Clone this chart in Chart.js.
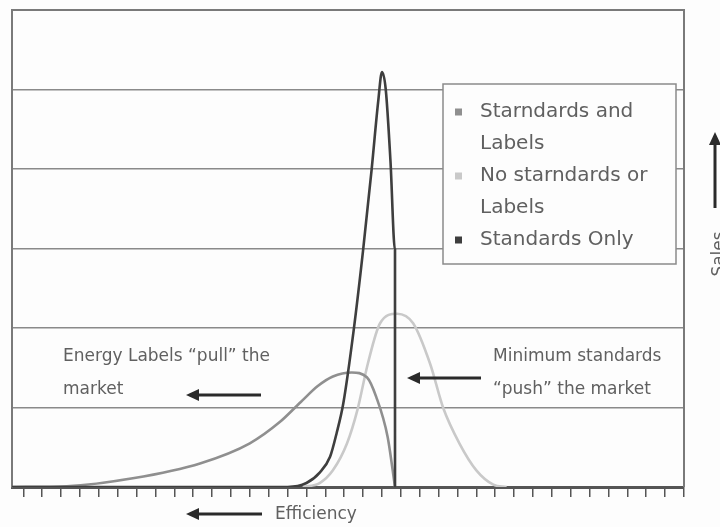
<!DOCTYPE html>
<html lang="en">
<head>
  <meta charset="UTF-8">
  <title>Efficiency vs Sales</title>
  <script src="https://cdn.jsdelivr.net/npm/chart.js"></script>
  <style>
    html, body { margin: 0; padding: 0; background: #fdfdfd; }
    #wrap { width: 720px; height: 527px; position: relative; }
  </style>
</head>
<body>
<div id="wrap"><canvas id="chart" width="720" height="527"></canvas></div>
<script>
  // series (x = efficiency position, y = sales)
  const seriesNames = [['Starndards and', 'Labels'], ['No starndards or', 'Labels'], ['Standards Only']];

  const slX = [-0.6, 2.3, 5.8, 9.4, 12.0, 13.6, 14.7, 15.6, 16.4, 17.4, 18.2, 18.7, 19.3, 19.69];
  const slY = [0, 0.01, 0.11, 0.30, 0.55, 0.82, 1.07, 1.27, 1.39, 1.44, 1.38, 1.13, 0.63, 0];

  const noX = [14.8, 15.7, 16.4, 17.15, 17.7, 18.25, 18.9, 19.8, 20.65, 21.55, 22.25, 23.1, 24.0, 24.9, 25.6];
  const noY = [0, 0.05, 0.21, 0.55, 0.97, 1.55, 2.06, 2.18, 2.06, 1.55, 0.99, 0.55, 0.21, 0.03, 0];

  const soX = [-0.6, 14.0, 15.0, 15.7, 16.25, 16.6, 16.95, 17.5, 18.0, 18.45, 18.8, 19.0, 19.2, 19.45, 19.69, 19.69];
  const soY = [0, 0, 0.05, 0.18, 0.38, 0.68, 1.05, 1.97, 2.98, 3.99, 4.85, 5.22, 5.0, 4.1, 2.98, 0];

  const seriesColors = ['#8f8f8f', '#c9c9c9', '#3e3e3e'];

  const toPoints = (xs, ys) => xs.map((x, i) => ({ x: x, y: ys[i] }));

  const FONT = '"DejaVu Sans", sans-serif';

  function arrow(ctx, x1, y1, x2, y2) {
    // shaft from (x1,y1) to tip (x2,y2)
    const ang = Math.atan2(y2 - y1, x2 - x1);
    const hl = 13, hw = 6;
    ctx.save();
    ctx.strokeStyle = '#2a2a2a';
    ctx.fillStyle = '#2a2a2a';
    ctx.lineWidth = 3;
    ctx.beginPath();
    ctx.moveTo(x1, y1);
    ctx.lineTo(x2 - Math.cos(ang) * hl * 0.8, y2 - Math.sin(ang) * hl * 0.8);
    ctx.stroke();
    ctx.translate(x2, y2);
    ctx.rotate(ang);
    ctx.beginPath();
    ctx.moveTo(0, 0);
    ctx.lineTo(-hl, -hw);
    ctx.lineTo(-hl, hw);
    ctx.closePath();
    ctx.fill();
    ctx.restore();
  }

  const decor = {
    id: 'decor',
    afterDraw(chart) {
      const ctx = chart.ctx;
      const a = chart.chartArea;
      ctx.save();
      // frame top / right
      ctx.strokeStyle = '#7a7a7a';
      ctx.lineWidth = 2;
      ctx.beginPath();
      ctx.moveTo(a.left, a.top);
      ctx.lineTo(a.right, a.top);
      ctx.lineTo(a.right, a.bottom);
      ctx.stroke();

      // legend box
      const bx = 443, by = 84, bw = 233, bh = 180;
      ctx.fillStyle = '#fdfdfd';
      ctx.fillRect(bx, by, bw, bh);
      ctx.strokeStyle = '#8a8a8a';
      ctx.lineWidth = 1.5;
      ctx.strokeRect(bx, by, bw, bh);
      ctx.font = '20px ' + FONT;
      ctx.textBaseline = 'middle';
      let y = 112;
      seriesNames.forEach((lines, i) => {
        ctx.fillStyle = seriesColors[i];
        ctx.fillRect(455, y - 3.5, 7, 7);
        ctx.fillStyle = '#606060';
        lines.forEach(t => {
          ctx.fillText(t, 480, y);
          y += 32;
        });
      });

      // annotations
      ctx.font = '17px ' + FONT;
      ctx.fillStyle = '#606060';
      ctx.fillText('Energy Labels \u201cpull\u201d the', 63, 357);
      ctx.fillText('market', 63, 390);
      ctx.fillText('Minimum standards', 493, 357);
      ctx.fillText('\u201cpush\u201d the market', 493, 390);
      ctx.fillText('Efficiency', 275, 515);

      arrow(ctx, 261, 395, 186, 395);
      arrow(ctx, 481, 378, 407, 378);
      arrow(ctx, 262, 514, 186, 514);
      arrow(ctx, 715, 208, 715, 132);

      ctx.translate(724, 254);
      ctx.rotate(-Math.PI / 2);
      ctx.textAlign = 'center';
      ctx.textBaseline = 'alphabetic';
      ctx.fillText('Sales', 0, 0);
      ctx.restore();
    }
  };

  new Chart(document.getElementById('chart'), {
    type: 'line',
    data: {
      datasets: [
        { label: seriesNames[0].join(' '), data: toPoints(slX, slY), borderColor: seriesColors[0], order: 2 },
        { label: seriesNames[1].join(' '), data: toPoints(noX, noY), borderColor: seriesColors[1], order: 3 },
        { label: seriesNames[2].join(' '), data: toPoints(soX, soY), borderColor: seriesColors[2], order: 1 }
      ]
    },
    options: {
      responsive: false,
      animation: false,
      layout: { padding: { left: 12, top: 10, right: 36, bottom: 30 } },
      elements: {
        point: { radius: 0 },
        line: { borderWidth: 2.6, fill: false, cubicInterpolationMode: 'monotone' }
      },
      plugins: { legend: { display: false }, tooltip: { enabled: false } },
      scales: {
        x: {
          type: 'linear',
          min: -0.6,
          max: 35,
          ticks: { display: false, stepSize: 1, includeBounds: false },
          grid: { drawOnChartArea: false, drawTicks: true, tickLength: 10, color: '#555', lineWidth: 1.5 },
          border: { display: true, color: '#555', width: 3 }
        },
        y: {
          min: 0,
          max: 6,
          ticks: { display: false, stepSize: 1 },
          grid: { drawTicks: false, color: '#8a8a8a', lineWidth: 1.5 },
          border: { display: true, color: '#7a7a7a', width: 2 }
        }
      }
    },
    plugins: [decor]
  });
</script>
</body>
</html>
